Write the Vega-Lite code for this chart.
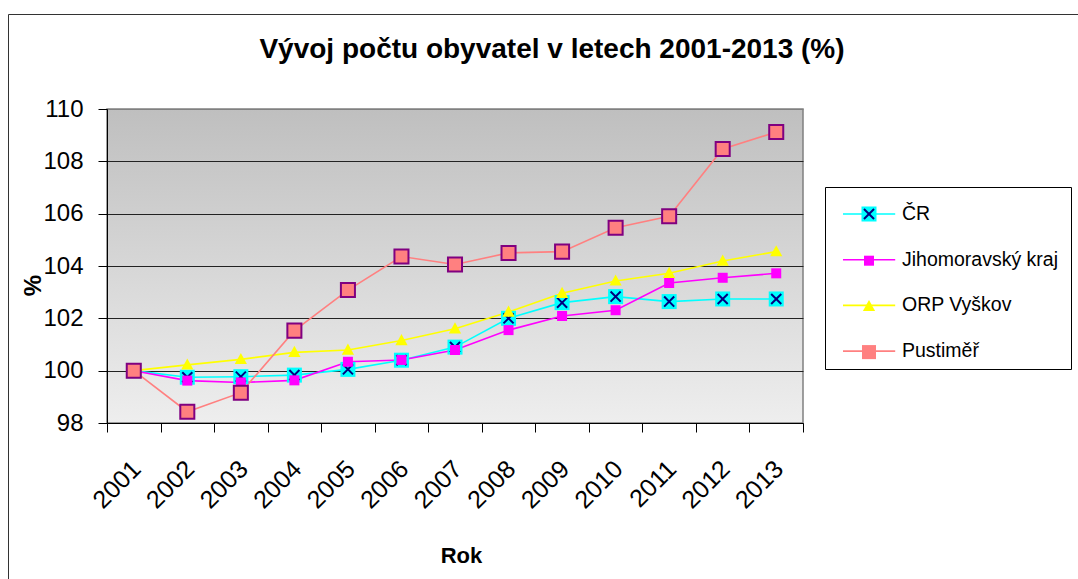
{
  "$schema": "https://vega.github.io/schema/vega-lite/v6.json",
  "width": 696,
  "height": 314,
  "autosize": {"type": "none"},
  "padding": {"left": 107, "top": 109, "right": 275, "bottom": 156},
  "background": "white",
  "title": {
    "text": "Vývoj počtu obyvatel v letech 2001-2013 (%)",
    "fontSize": 28,
    "fontWeight": "bold",
    "font": "Liberation Sans",
    "color": "#000",
    "anchor": "middle",
    "frame": "group",
    "dx": 97,
    "baseline": "alphabetic",
    "offset": -72
  },
  "config": {
    "font": "Liberation Sans",
    "view": {
      "fill": {"gradient": "linear", "x1": 0, "y1": 0, "x2": 0, "y2": 1, "stops": [{"offset": 0, "color": "#bfbfbf"}, {"offset": 1, "color": "#eeeeee"}]},
      "stroke": "#808080",
      "strokeWidth": 1.5
    }
  },
  "datasets": {
    "pop": [
      {"year": "2001", "series": "ČR", "value": 100},
      {"year": "2002", "series": "ČR", "value": 99.75},
      {"year": "2003", "series": "ČR", "value": 99.77},
      {"year": "2004", "series": "ČR", "value": 99.83},
      {"year": "2005", "series": "ČR", "value": 100.05},
      {"year": "2006", "series": "ČR", "value": 100.4},
      {"year": "2007", "series": "ČR", "value": 100.9},
      {"year": "2008", "series": "ČR", "value": 102.0},
      {"year": "2009", "series": "ČR", "value": 102.6},
      {"year": "2010", "series": "ČR", "value": 102.83},
      {"year": "2011", "series": "ČR", "value": 102.64},
      {"year": "2012", "series": "ČR", "value": 102.74},
      {"year": "2013", "series": "ČR", "value": 102.74},
      {"year": "2001", "series": "Jihomoravský kraj", "value": 100},
      {"year": "2002", "series": "Jihomoravský kraj", "value": 99.62},
      {"year": "2003", "series": "Jihomoravský kraj", "value": 99.55},
      {"year": "2004", "series": "Jihomoravský kraj", "value": 99.63},
      {"year": "2005", "series": "Jihomoravský kraj", "value": 100.34},
      {"year": "2006", "series": "Jihomoravský kraj", "value": 100.41},
      {"year": "2007", "series": "Jihomoravský kraj", "value": 100.79},
      {"year": "2008", "series": "Jihomoravský kraj", "value": 101.55},
      {"year": "2009", "series": "Jihomoravský kraj", "value": 102.09},
      {"year": "2010", "series": "Jihomoravský kraj", "value": 102.31},
      {"year": "2011", "series": "Jihomoravský kraj", "value": 103.35},
      {"year": "2012", "series": "Jihomoravský kraj", "value": 103.55},
      {"year": "2013", "series": "Jihomoravský kraj", "value": 103.72},
      {"year": "2001", "series": "ORP Vyškov", "value": 100},
      {"year": "2002", "series": "ORP Vyškov", "value": 100.22},
      {"year": "2003", "series": "ORP Vyškov", "value": 100.43},
      {"year": "2004", "series": "ORP Vyškov", "value": 100.7},
      {"year": "2005", "series": "ORP Vyškov", "value": 100.79},
      {"year": "2006", "series": "ORP Vyškov", "value": 101.15},
      {"year": "2007", "series": "ORP Vyškov", "value": 101.6},
      {"year": "2008", "series": "ORP Vyškov", "value": 102.24},
      {"year": "2009", "series": "ORP Vyškov", "value": 102.96},
      {"year": "2010", "series": "ORP Vyškov", "value": 103.43},
      {"year": "2011", "series": "ORP Vyškov", "value": 103.72},
      {"year": "2012", "series": "ORP Vyškov", "value": 104.19},
      {"year": "2013", "series": "ORP Vyškov", "value": 104.55},
      {"year": "2001", "series": "Pustiměř", "value": 100},
      {"year": "2002", "series": "Pustiměř", "value": 98.43},
      {"year": "2003", "series": "Pustiměř", "value": 99.16},
      {"year": "2004", "series": "Pustiměř", "value": 101.53},
      {"year": "2005", "series": "Pustiměř", "value": 103.08},
      {"year": "2006", "series": "Pustiměř", "value": 104.36},
      {"year": "2007", "series": "Pustiměř", "value": 104.06},
      {"year": "2008", "series": "Pustiměř", "value": 104.5},
      {"year": "2009", "series": "Pustiměř", "value": 104.55},
      {"year": "2010", "series": "Pustiměř", "value": 105.46},
      {"year": "2011", "series": "Pustiměř", "value": 105.9},
      {"year": "2012", "series": "Pustiměř", "value": 108.47},
      {"year": "2013", "series": "Pustiměř", "value": 109.12}
    ]
  },
  "data": {"name": "pop"},
  "encoding": {
    "x": {
      "field": "year",
      "type": "ordinal",
      "bandPosition": 0.5,
      "scale": {"type": "band", "paddingInner": 0, "paddingOuter": 0},
      "title": "Rok",
      "axis": {
        "labelAngle": -45,
        "labelFontSize": 25,
        "labelColor": "#000",
        "labelPadding": 24,
        "labelOffset": -6,
        "tickBand": "extent",
        "tickSize": 9,
        "tickColor": "#000",
        "domainColor": "#000",
        "titleFontSize": 22,
        "titleFontWeight": "bold",
        "titleColor": "#000",
        "titleBaseline": "alphabetic",
        "titleX": 354,
        "titleY": 139,
        "grid": false
      }
    },
    "y": {
      "field": "value",
      "type": "quantitative",
      "scale": {"domain": [98, 110], "nice": false, "zero": false},
      "title": "%",
      "axis": {
        "values": [98, 100, 102, 104, 106, 108, 110],
        "labelFontSize": 24,
        "labelColor": "#000",
        "labelPadding": 15,
        "tickSize": 9,
        "tickColor": "#000",
        "domainColor": "#000",
        "grid": true,
        "gridColor": {"condition": {"test": "datum.value === 110", "value": "#808080"}, "value": "#222"},
        "gridOpacity": 1,
        "titleFontSize": 24,
        "titleFontWeight": "bold",
        "titleColor": "#000",
        "titleX": -62,
        "titleY": 176
      }
    }
  },
  "layer": [
    {
      "mark": {"type": "line", "strokeWidth": 1.6},
      "encoding": {
        "color": {
          "field": "series",
          "type": "nominal",
          "sort": ["ČR", "Jihomoravský kraj", "ORP Vyškov", "Pustiměř"],
          "scale": {"range": ["#00ffff", "#ff00ff", "#ffff00", "#ff8080"]},
          "legend": {
            "orient": "none",
            "legendX": 718,
            "legendY": 78,
            "title": "\u00a0\u00a0\u00a0\u00a0\u00a0\u00a0\u00a0\u00a0",
            "titleOrient": "right",
            "titleFontSize": 19,
            "symbolType": "M-0.5,0H2.4",
            "symbolSize": 1296,
            "symbolStrokeWidth": 1.6,
            "labelFontSize": 19.5,
            "labelColor": "#000",
            "labelOffset": 31,
            "labelLimit": 400,
            "padding": 8,
            "rowPadding": 16.7,
            "strokeColor": "#000",
            "fillColor": "#ffffff",
            "zindex": 0
          }
        },
        "strokeWidth": {
          "field": "series",
          "type": "nominal",
          "scale": {"range": [1.6, 1.6]},
          "legend": {
            "orient": "none",
            "legendX": -99,
            "legendY": -95,
            "title": null,
            "padding": 560,
            "strokeColor": "#333333",
            "symbolOpacity": 0,
            "labelExpr": "''",
            "zindex": 0
          }
        }
      }
    },
    {
      "transform": [{"filter": "datum.series === 'ČR'"}],
      "mark": {"type": "point", "filled": true, "size": 1296, "opacity": 1},
      "encoding": {
        "shape": {
          "field": "series",
          "type": "nominal",
          "scale": {
            "domain": ["ČR", "Jihomoravský kraj", "ORP Vyškov", "Pustiměř"],
            "range": ["M-0.417,-0.417H0.417V0.417H-0.417Z", "M-0.278,-0.278H0.278V0.278H-0.278Z", "M0,-0.36L0.34,0.26H-0.34Z", "M-0.39,-0.39H0.39V0.39H-0.39Z"]
          },
          "legend": {
            "orient": "none",
            "legendX": 735,
            "legendY": 78,
            "title": null,
            "symbolSize": 1296,
            "labelExpr": "''",
            "labelFontSize": 19.5,
            "padding": 8,
            "rowPadding": 16.7,
            "zindex": 1,
            "encode": {
              "symbols": {
                "stroke": {"condition": {"test": "datum.value === 'Pustiměř'", "value": "#800080"}, "value": "transparent"},
                "strokeWidth": {"value": 2}
              }
            }
          }
        },
        "fill": {
          "field": "series",
          "type": "nominal",
          "scale": {
            "domain": ["ČR", "Jihomoravský kraj", "ORP Vyškov", "Pustiměř"],
            "range": ["#00ffff", "#ff00ff", "#ffff00", "#ff8080"]
          },
          "legend": {
            "orient": "none",
            "legendX": 735,
            "legendY": 78,
            "title": null,
            "symbolSize": 1296,
            "labelExpr": "''",
            "labelFontSize": 19.5,
            "padding": 8,
            "rowPadding": 16.7,
            "zindex": 1
          }
        }
      }
    },
    {
      "transform": [{"filter": "datum.series === 'ČR'"}],
      "mark": {"type": "point", "filled": false, "size": 1296, "shape": "M-0.28,-0.28L0.28,0.28M-0.28,0.28L0.28,-0.28", "stroke": "#000080", "strokeWidth": 2, "fill": "transparent"},
      "encoding": {
        "opacity": {
          "field": "series",
          "type": "nominal",
          "scale": {"domain": ["ČR"], "range": [1]},
          "legend": {
            "orient": "none",
            "legendX": 735,
            "legendY": 78,
            "title": null,
            "symbolType": "M-0.28,-0.28L0.28,0.28M-0.28,0.28L0.28,-0.28",
            "symbolSize": 1296,
            "symbolStrokeColor": "#000080",
            "symbolFillColor": "transparent",
            "symbolStrokeWidth": 2,
            "labelExpr": "''",
            "labelFontSize": 19.5,
            "padding": 8,
            "zindex": 2
          }
        }
      }
    },
    {
      "transform": [{"filter": "datum.series !== 'ČR'"}],
      "mark": {"type": "point", "filled": true, "size": 1296, "opacity": 1, "strokeWidth": 2},
      "encoding": {
        "shape": {"field": "series", "type": "nominal"},
        "fill": {"field": "series", "type": "nominal"},
        "stroke": {"condition": {"test": "datum.series === 'Pustiměř'", "value": "#800080"}, "value": null}
      }
    }
  ]
}
